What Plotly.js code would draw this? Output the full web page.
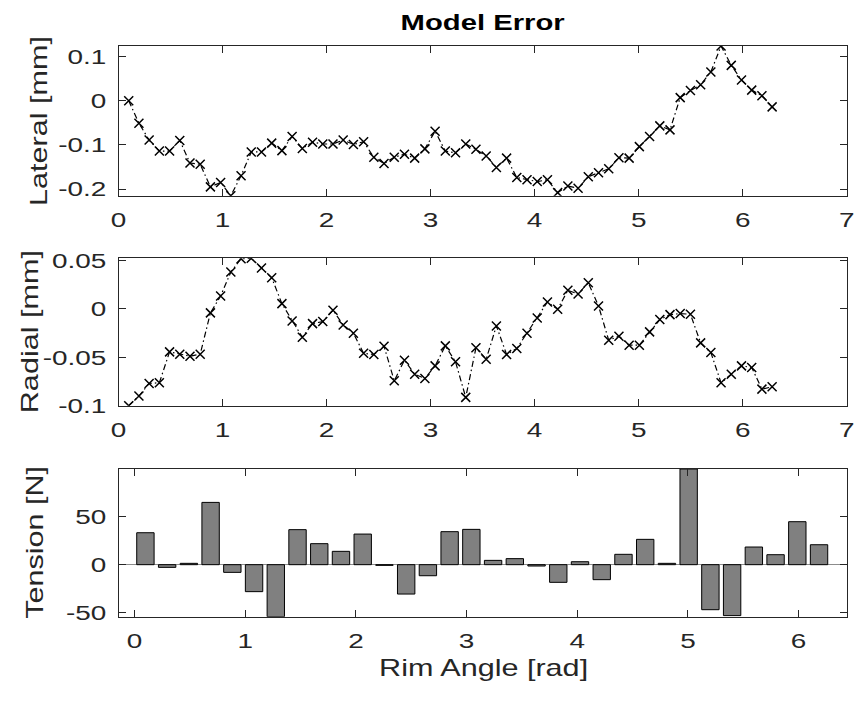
<!DOCTYPE html>
<html>
<head>
<meta charset="utf-8">
<script src="https://cdn.plot.ly/plotly-3.0.1.min.js"></script>
<style>html,body{margin:0;padding:0;background:#fff}#chart{width:857px;height:702px}</style>
</head>
<body>
<div id="chart"></div>
<script>
// Rim angle sample positions [rad] for the error curves
const angle = [0.0982,0.1963,0.2945,0.3927,0.4909,0.5890,0.6872,0.7854,0.8836,0.9817,
  1.0799,1.1781,1.2763,1.3744,1.4726,1.5708,1.6690,1.7671,1.8653,1.9635,
  2.0617,2.1598,2.2580,2.3562,2.4544,2.5525,2.6507,2.7489,2.8471,2.9452,
  3.0434,3.1416,3.2398,3.3379,3.4361,3.5343,3.6325,3.7306,3.8288,3.9270,
  4.0252,4.1233,4.2215,4.3197,4.4179,4.5160,4.6142,4.7124,4.8106,4.9087,
  5.0069,5.1051,5.2033,5.3014,5.3996,5.4978,5.5960,5.6941,5.7923,5.8905,
  5.9887,6.0868,6.1850,6.2832];

const lateral = [0.000,-0.051,-0.089,-0.114,-0.114,-0.090,-0.141,-0.144,-0.195,-0.185,
  -0.215,-0.170,-0.116,-0.116,-0.096,-0.113,-0.081,-0.108,-0.094,-0.098,
  -0.098,-0.089,-0.099,-0.093,-0.128,-0.142,-0.128,-0.121,-0.130,-0.109,
  -0.069,-0.114,-0.118,-0.098,-0.110,-0.125,-0.151,-0.130,-0.174,-0.179,
  -0.183,-0.179,-0.208,-0.193,-0.198,-0.172,-0.163,-0.154,-0.129,-0.130,
  -0.104,-0.081,-0.057,-0.066,0.007,0.023,0.036,0.065,0.1238,0.080,
  0.047,0.024,0.011,-0.014];

const radial = [-0.1003,-0.0903,-0.0772,-0.0765,-0.0445,-0.0469,-0.0490,-0.0469,-0.0041,0.0134,
  0.0383,0.0520,0.0525,0.0424,0.0324,0.0055,-0.0124,-0.0293,-0.0152,-0.0131,
  -0.0014,-0.0166,-0.0252,-0.0460,-0.0472,-0.0386,-0.0745,-0.0531,-0.0676,-0.0721,
  -0.0590,-0.0383,-0.0548,-0.0917,-0.0403,-0.0521,-0.0176,-0.0472,-0.0410,-0.0252,
  -0.0093,0.0072,-0.0003,0.0193,0.0155,0.0272,0.0031,-0.0324,-0.0283,-0.0376,
  -0.0376,-0.0238,-0.0110,-0.0059,-0.0048,-0.0055,-0.0352,-0.0452,-0.0766,-0.0676,
  -0.0590,-0.0607,-0.0831,-0.0807];

// Bar positions [rad] and tension errors [N]
const barAngle = [0.0982,0.2945,0.4909,0.6872,0.8836,1.0799,1.2763,1.4726,1.6690,1.8653,
  2.0617,2.2580,2.4544,2.6507,2.8471,3.0434,3.2398,3.4361,3.6325,3.8288,
  4.0252,4.2215,4.4179,4.6142,4.8106,5.0069,5.2033,5.3996,5.5960,5.7923,
  5.9887,6.1850];
const tension = [33.3,-2.8,1.4,64.9,-8.0,-28.1,-54.2,36.5,21.9,13.9,
  31.9,-0.7,-30.6,-11.5,34.4,36.8,4.5,6.3,-1.4,-18.4,
  3.1,-15.6,10.8,26.4,1.4,99.7,-46.9,-53.1,18.4,10.4,
  44.8,20.8];

// Tick labels
const xTicks7 = [0,1,2,3,4,5,6,7];
const xTicks6 = [0,1,2,3,4,5,6];
const latTicks = [-0.2,-0.1,0,0.1];
const latTickText = ['-0.2','-0.1','0','0.1'];
const radTicks = [-0.1,-0.05,0,0.05];
const radTickText = ['-0.1','-0.05','0','0.05'];
const tenTicks = [-50,0,50];
const tenTickText = ['-50','0','50'];

const titleText = 'Model Error';
const xLabel = 'Rim Angle [rad]';
const yLabels = ['Lateral [mm]','Radial [mm]','Tension [N]'];

const axCol = '#262626';
const FAM = 'Liberation Sans, Arial, sans-serif';
const tickFont = {family:FAM, size:21, color:axCol};
const labelFont = {family:FAM, size:23, color:axCol};
const TEXT_STRETCH = 1.33;   // reference glyphs are wider than Arial

const W = 857, H = 702;
const xDom = [118.5/W, 846.7/W];
function yDom(top, bottom){ return [1-bottom/H, 1-top/H]; }

function baseAxis(extra){
  return Object.assign({
    showline:true, mirror:'allticks', linecolor:axCol, linewidth:1,
    ticks:'inside', ticklen:7, tickwidth:1, tickcolor:axCol,
    showgrid:false, zeroline:false, tickfont:tickFont, automargin:false
  }, extra);
}
function xAxis(extra){ return baseAxis(Object.assign({ticklabelstandoff:5}, extra)); }
function yAxis(extra){ return baseAxis(Object.assign({ticklabelstandoff:7}, extra)); }

const lineStyle = {color:'#000', width:1.2, dash:'6px,3px,1.5px,3px'};
const markerStyle = {symbol:'x-thin-open', size:9, color:'#000', line:{color:'#000', width:1.5}};

const traces = [
  {x:angle, y:lateral, type:'scatter', mode:'lines+markers', line:lineStyle, marker:markerStyle, xaxis:'x', yaxis:'y'},
  {x:angle, y:radial, type:'scatter', mode:'lines+markers', line:lineStyle, marker:markerStyle, xaxis:'x2', yaxis:'y2'},
  {x:barAngle, y:tension, type:'bar', width:0.157, marker:{color:'#808080', line:{color:'#000', width:1}}, xaxis:'x3', yaxis:'y3'}
];

const layout = {
  width:W, height:H, margin:{l:0,r:0,t:0,b:0}, showlegend:false,
  paper_bgcolor:'#fff', plot_bgcolor:'#fff',
  xaxis: xAxis({domain:xDom, range:[0,7], tickmode:'array', tickvals:xTicks7, ticktext:xTicks7.map(String), anchor:'y'}),
  yaxis: yAxis({domain:yDom(46,195.7), range:[-0.215,0.1238], tickmode:'array', tickvals:latTicks, ticktext:latTickText, anchor:'x'}),
  xaxis2: xAxis({domain:xDom, range:[0,7], tickmode:'array', tickvals:xTicks7, ticktext:xTicks7.map(String), anchor:'y2'}),
  yaxis2: yAxis({domain:yDom(258.3,405.7), range:[-0.1003,0.0525], tickmode:'array', tickvals:radTicks, ticktext:radTickText, anchor:'x2'}),
  xaxis3: xAxis({domain:xDom, range:[-0.145,6.435], tickmode:'array', tickvals:xTicks6, ticktext:xTicks6.map(String), anchor:'y3'}),
  yaxis3: yAxis({domain:yDom(469,616.7), range:[-54.2,99.7], tickmode:'array', tickvals:tenTicks, ticktext:tenTickText, anchor:'x3', zeroline:true, zerolinecolor:'#8c8c8c', zerolinewidth:1}),
  bargap:0,
  annotations:[
    {text:'<b>'+titleText+'</b>', xref:'paper', yref:'paper', x:483/W, y:1-22/H, showarrow:false, xanchor:'center', yanchor:'middle', font:{family:FAM, size:22, color:'#000'}},
    {text:xLabel, xref:'paper', yref:'paper', x:483/W, y:1-668/H, showarrow:false, xanchor:'center', yanchor:'middle', font:labelFont},
    {text:yLabels[0], xref:'paper', yref:'paper', x:39/W, y:1-120.9/H, showarrow:false, textangle:-90, xanchor:'center', yanchor:'middle', font:labelFont},
    {text:yLabels[1], xref:'paper', yref:'paper', x:30/W, y:1-332/H, showarrow:false, textangle:-90, xanchor:'center', yanchor:'middle', font:labelFont},
    {text:yLabels[2], xref:'paper', yref:'paper', x:35/W, y:1-542.9/H, showarrow:false, textangle:-90, xanchor:'center', yanchor:'middle', font:labelFont}
  ]
};

// Widen each text along its own direction, keeping its anchor point fixed
function widenText(gd, sx){
  gd.querySelectorAll('svg text').forEach(function(t){
    if(!t.textContent) return;
    const bb = t.getBBox();
    const anchor = t.getAttribute('text-anchor') || window.getComputedStyle(t).textAnchor || 'start';
    const ax = anchor === 'end' ? bb.x + bb.width : (anchor === 'middle' ? bb.x + bb.width/2 : bb.x);
    const prev = t.getAttribute('transform') || '';
    t.setAttribute('transform', (prev + ' translate(' + ax + ',0) scale(' + sx + ',1) translate(' + (-ax) + ',0)').trim());
  });
}

Plotly.newPlot('chart', traces, layout, {displayModeBar:false, staticPlot:true}).then(function(gd){
  widenText(gd, TEXT_STRETCH);
});
</script>
</body>
</html>
